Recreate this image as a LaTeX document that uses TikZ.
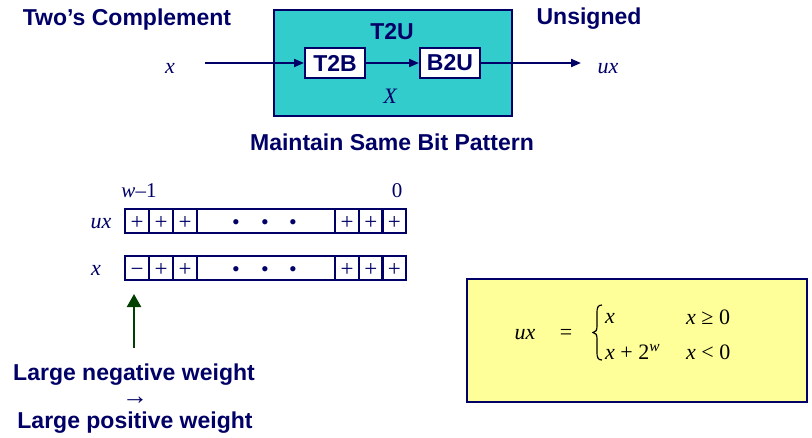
\documentclass[tikz,border=0pt]{standalone}
\usepackage{fontspec}
\setmainfont{Liberation Serif}
\newfontfamily\hv{Liberation Sans}
\usetikzlibrary{arrows.meta}
\definecolor{navy}{RGB}{0,0,102}
\definecolor{tealfill}{RGB}{51,204,204}
\definecolor{yellowfill}{RGB}{255,255,153}
\definecolor{darkgreen}{RGB}{0,64,0}
\tikzset{
  bold/.style={text=navy, font=\hv\bfseries\fontsize{23}{27}\selectfont, inner sep=0pt},
  ital/.style={text=navy, font=\itshape\fontsize{22}{26}\selectfont, inner sep=0pt},
  mathtxt/.style={text=black, font=\fontsize{22}{26}\selectfont, inner sep=0pt},
  whitebox/.style={draw=navy, line width=2pt, fill=white, minimum width=60pt, minimum height=30pt, inner sep=0pt, text=navy, font=\hv\bfseries\fontsize{23}{27}\selectfont},
  cell/.style={draw=navy, line width=2.2pt, minimum height=24pt, inner sep=0pt, text height=17pt, text depth=0pt, text=navy, font=\fontsize{23}{24}\selectfont},
  bitdot/.style={text=navy, inner sep=0pt, text height=16pt, text depth=0pt, font=\fontsize{22}{24}\selectfont},
  navyarrow/.style={draw=navy, line width=2pt, -{Triangle[length=10pt,width=8pt]}},
}
\begin{document}
\begin{tikzpicture}[x=1pt,y=-1pt]
\useasboundingbox (0,0) rectangle (812,437);

% top part
\node[bold] (tc) at (127,20) {Two’s Complement};
\node[bold] (uns) at (589,19) {Unsigned};
\node[draw=navy, line width=2pt, fill=tealfill, minimum width=238pt, minimum height=106pt, inner sep=0pt] (t2u) at (393,63) {};
\node[bold] (t2ulbl) at (392,32) {T2U};
\node[whitebox] (t2b) at (335,63) {T2B};
\node[whitebox] (b2u) at (450,63) {B2U};
\node[ital] (X) at (390,96) {X};
\node[ital] (xin) at (170,68) {x};
\node[ital] (uxout) at (608,69) {ux};
\coordinate (astart) at (205,63);
\coordinate (aend) at (581,63);
\draw[navyarrow] (astart) -- (t2b.west);
\draw[navyarrow] (t2b.east) -- (b2u.west);
\draw[navyarrow] (b2u.east) -- (aend);
\node[bold] (msbp) at (392,142) {Maintain Same Bit Pattern};

% bit rows
\node[text=navy, font=\fontsize{21}{25}\selectfont, inner sep=0pt] (wm1) at (139,191) {\textit{w}–1};
\node[text=navy, font=\fontsize{21}{25}\selectfont, inner sep=0pt] (zero) at (397,191) {0};
\node[ital] (uxlbl) at (101,224) {ux};
\node[ital] (xlbl) at (96,270) {x};

% ux row
\node[cell, minimum width=24pt] (u1) at (137,221) {+};
\node[cell, minimum width=24pt] (u2) at (161,221) {+};
\node[cell, minimum width=24pt] (u3) at (185,221) {+};
\node[cell, minimum width=138pt] (um) at (266,221) {};
\node[cell, minimum width=24pt] (u4) at (347,221) {+};
\node[cell, minimum width=23.5pt] (u5) at (370.75,221) {+};
\node[cell, minimum width=23.5pt] (u6) at (394.25,221) {+};
\foreach \dx/\nm in {236/ud1,265/ud2,293/ud3} \node[bitdot] (\nm) at (\dx,221) {•};

% x row
\node[cell, minimum width=24pt] (x1) at (137,268) {−};
\node[cell, minimum width=24pt] (x2) at (161,268) {+};
\node[cell, minimum width=24pt] (x3) at (185,268) {+};
\node[cell, minimum width=138pt] (xm) at (266,268) {};
\node[cell, minimum width=24pt] (x4) at (347,268) {+};
\node[cell, minimum width=23.5pt] (x5) at (370.75,268) {+};
\node[cell, minimum width=23.5pt] (x6) at (394.25,268) {+};
\foreach \dx/\nm in {236/xd1,265/xd2,293/xd3} \node[bitdot] (\nm) at (\dx,268) {•};

% green arrow
\coordinate (gstart) at (134,348);
\coordinate (gtip) at (134,294);
\draw[draw=darkgreen, line width=2.4pt, -{Triangle[length=13pt,width=14pt]}] (gstart) -- (gtip);

\node[bold] (lnw) at (134,375) {Large negative weight};
\node[text=navy, font=\fontsize{26}{30}\selectfont, inner sep=0pt] (arr) at (135,401) {→};
\node[bold] (lpw) at (135,423) {Large positive weight};

% yellow box
\node[draw=navy, line width=2pt, fill=yellowfill, minimum width=340pt, minimum height=123pt, inner sep=0pt] (ybox) at (637,340.5) {};
\node[mathtxt, font=\itshape\fontsize{22}{26}\selectfont] (fux) at (525,335) {ux};
\node[mathtxt] (feq) at (566,334) {=};
\draw[line width=1.2pt] (602,305) .. controls (597.5,305) and (597,308) .. (597,313) -- (597,326)
  .. controls (597,330) and (596,332.5) .. (593,332.5)
  .. controls (596,332.5) and (597,335) .. (597,339) -- (597,352)
  .. controls (597,357) and (597.5,360) .. (602,360);
\node[mathtxt, anchor=west] (c1) at (605,318) {\textit{x}};
\node[mathtxt, anchor=west] (c2) at (605,352) {\textit{x} + 2\textsuperscript{\textit{w}}};
\node[mathtxt, anchor=west] (d1) at (686,317) {\textit{x} ≥ 0};
\node[mathtxt, anchor=west] (d2) at (686,352) {\textit{x} < 0};
\end{tikzpicture}
\end{document}
